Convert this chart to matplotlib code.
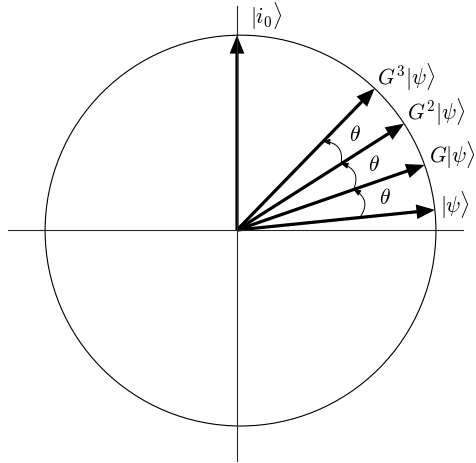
import numpy as np
import matplotlib
matplotlib.use("Agg")
import matplotlib.pyplot as plt
from matplotlib.patches import Circle, FancyArrowPatch

plt.rcParams["mathtext.fontset"] = "cm"

# state vectors: direction angle (deg) and label
vec_angles = [90.0, 5.8, 19.13, 32.47, 45.8]
vec_labels = [r"$|i_0\rangle$", r"$|\psi\rangle$", r"$G|\psi\rangle$",
              r"$G^2|\psi\rangle$", r"$G^3|\psi\rangle$"]
# rotation steps shown between consecutive G^k|psi> vectors
step_pairs = [(1, 2), (2, 3), (3, 4)]
step_label = r"$\theta$"

# layout (pixels)
W, H = 476, 464
S = 196.0                 # px per unit
OX, OY = 237, 231         # origin in pixels
circ_c = (0.018, -0.003)
circ_r = 0.997
label_off = [(13, 20), (5, 6), (4, 11), (3, 13), (2, 12)]  # px, (right, up)
arc_r = 0.63
theta_r = 0.775
FS = 15.5

fig = plt.figure(figsize=(W / 100, H / 100), dpi=100)
ax = fig.add_axes([0, 0, 1, 1])
ax.set_xlim(-OX / S, (W - OX) / S)
ax.set_ylim(-(H - OY) / S, OY / S)
ax.axis("off")

# axes
ax.plot([(8 - OX) / S, (463 - OX) / S], [0, 0], color="0.15", lw=0.8)
ax.plot([0, 0], [(OY - 462) / S, (OY - 7) / S], color="0.15", lw=0.8)
ax.add_patch(Circle(circ_c, circ_r, fill=False, lw=0.8, color="black"))


def tip(a):
    u = np.array([np.cos(np.radians(a)), np.sin(np.radians(a))])
    c = np.array(circ_c)
    uc = u @ c
    t = uc + np.sqrt(uc ** 2 - c @ c + circ_r ** 2)
    return t * u


for a, lab, (dx, dy) in zip(vec_angles, vec_labels, label_off):
    p = tip(a)
    ax.add_patch(FancyArrowPatch((0, 0), tuple(p),
                                 arrowstyle="-|>,head_length=9,head_width=3.6",
                                 lw=2.3, color="black", shrinkA=0, shrinkB=0,
                                 joinstyle="miter", capstyle="butt"))
    ax.text(p[0] + dx / S, p[1] + dy / S, lab, fontsize=FS,
            ha="left", va="center")

for i, j in step_pairs:
    a0, a1 = np.radians(vec_angles[i]), np.radians(vec_angles[j])
    p0 = (arc_r * np.cos(a0), arc_r * np.sin(a0))
    p1 = (arc_r * np.cos(a1), arc_r * np.sin(a1))
    ax.add_patch(FancyArrowPatch(p0, p1, connectionstyle="arc3,rad=0.55",
                                 arrowstyle="-|>,head_length=4,head_width=1.8",
                                 lw=0.7, color="black", shrinkA=0, shrinkB=0))
    am = 0.5 * (a0 + a1)
    ax.text(theta_r * np.cos(am), theta_r * np.sin(am), step_label,
            fontsize=FS, ha="center", va="center")

fig.savefig("out.png", dpi=100)
